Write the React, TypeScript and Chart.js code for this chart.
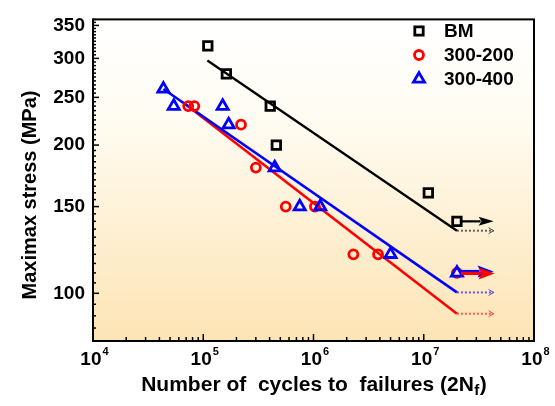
import React, { useEffect, useRef } from 'react';
import { Chart, registerables } from 'chart.js';
Chart.register(...registerables);

const FONT = '"Liberation Sans", Arial, Helvetica, sans-serif';

// ---- data ----
const legendLabels = ['BM', '300-200', '300-400'];
const seriesColors = ['#000000', '#ff0000', '#0000ff'];

const bmCycles = [1.1e5, 1.62e5, 4.05e5, 4.6e5, 1.1e7, 2e7];
const bmStress = [318, 279, 240, 200, 160, 140];

const s200Cycles = [7.3e4, 8.3e4, 2.2e5, 3.0e5, 5.6e5, 1.03e6, 2.3e6, 3.85e6, 2e7];
const s200Stress = [240, 240, 220, 180, 150, 150, 120, 120, 110];

const s400Cycles = [4.35e4, 5.4e4, 1.5e5, 1.7e5, 4.45e5, 7.5e5, 1.15e6, 5.0e6, 2e7];
const s400Stress = [260, 240, 240, 220, 180, 150, 150, 120, 110];

const bmFitCycles = [1.09e5, 2e7];
const bmFitStress = [297, 134];
const s200FitCycles = [6.9e4, 2e7];
const s200FitStress = [242, 90.9];
const s400FitCycles = [4.35e4, 2e7];
const s400FitStress = [260, 100.4];

const runoutEndCycles = 4.3e7; // end of run-out arrows / dashed extensions
const runoutArrowStress = [140, 110, 110]; // BM, 300-200, 300-400

const yMajorTicks = [100, 150, 200, 250, 300, 350];
const yMinorStep = 5;
const xDecades = [4, 5, 6, 7, 8];
const yMin = 80;
const yMax = 360;
const xMin = 1e4;
const xMax = 1e8;

const pts = (xs: number[], ys: number[]) => xs.map((x, i) => ({ x, y: ys[i] }));

function drawArrow(ctx: CanvasRenderingContext2D, x1: number, y: number, x2: number, color: string, lw: number, hl: number, hw: number) {
  ctx.save();
  ctx.strokeStyle = color;
  ctx.fillStyle = color;
  ctx.lineWidth = lw;
  ctx.beginPath();
  ctx.moveTo(x1, y);
  ctx.lineTo(x2 - hl + 2, y);
  ctx.stroke();
  ctx.beginPath();
  ctx.moveTo(x2, y);
  ctx.lineTo(x2 - hl, y - hw);
  ctx.lineTo(x2 - hl + 3, y);
  ctx.lineTo(x2 - hl, y + hw);
  ctx.closePath();
  ctx.fill();
  ctx.restore();
}

function drawMarker(ctx: CanvasRenderingContext2D, kind: number, x: number, y: number) {
  ctx.save();
  ctx.lineWidth = 2.8;
  ctx.strokeStyle = seriesColors[kind];
  ctx.beginPath();
  if (kind === 0) {
    ctx.rect(x - 4.2, y - 4.2, 8.4, 8.4);
  } else if (kind === 1) {
    ctx.arc(x, y, 4.5, 0, Math.PI * 2);
  } else {
    const r = 6.4;
    ctx.moveTo(x, y - r);
    ctx.lineTo(x + r * 0.866, y + r * 0.5);
    ctx.lineTo(x - r * 0.866, y + r * 0.5);
    ctx.closePath();
  }
  ctx.stroke();
  ctx.restore();
}

const decorPlugin = {
  id: 'decor',
  beforeDatasetsDraw(chart: any) {
    const { ctx, chartArea: a } = chart;
    const g = ctx.createLinearGradient(0, a.top, 0, a.bottom);
    g.addColorStop(0, '#ffffff');
    g.addColorStop(0.3, '#fffcf3');
    g.addColorStop(1, '#fde4b4');
    ctx.save();
    ctx.fillStyle = g;
    ctx.fillRect(a.left, a.top, a.right - a.left, a.bottom - a.top);
    ctx.restore();
  },
  afterDatasetsDraw(chart: any) {
    const { ctx, chartArea: a } = chart;
    const xs = chart.scales.x;
    const ys = chart.scales.y;

    // run-out arrows
    const startX = xs.getPixelForValue(2e7) + 4;
    const endX = xs.getPixelForValue(runoutEndCycles);
    drawArrow(ctx, startX, ys.getPixelForValue(runoutArrowStress[0]), endX, '#000', 2.2, 15, 4.5);
    drawArrow(ctx, startX, ys.getPixelForValue(runoutArrowStress[2]) - 1.5, endX, '#0000ff', 3, 16, 6);
    drawArrow(ctx, startX, ys.getPixelForValue(runoutArrowStress[1]) + 0.5, endX + 1, '#ff0000', 3.2, 16, 6);

    // small open heads on dashed extensions
    const fits = [bmFitStress[1], s200FitStress[1], s400FitStress[1]];
    fits.forEach((s, i) => {
      const y = ys.getPixelForValue(s);
      ctx.save();
      ctx.strokeStyle = seriesColors[i];
      ctx.globalAlpha = 0.7;
      ctx.lineWidth = 1;
      ctx.beginPath();
      ctx.moveTo(endX - 5, y - 3);
      ctx.lineTo(endX, y);
      ctx.lineTo(endX - 5, y + 3);
      ctx.stroke();
      ctx.restore();
    });

    // ticks
    ctx.save();
    ctx.strokeStyle = '#000';
    ctx.lineWidth = 1.5;
    xs.ticks.forEach((t: any) => {
      const px = xs.getPixelForValue(t.value);
      const lg = Math.log10(t.value);
      const major = Math.abs(lg - Math.round(lg)) < 1e-9;
      const len = major ? 7 : 4;
      ctx.beginPath();
      ctx.moveTo(px, a.bottom);
      ctx.lineTo(px, a.bottom - len);
      ctx.stroke();
    });
    ys.ticks.forEach((t: any) => {
      const py = ys.getPixelForValue(t.value);
      const major = yMajorTicks.includes(t.value);
      const len = major ? 6 : 3;
      ctx.beginPath();
      ctx.moveTo(a.left, py);
      ctx.lineTo(a.left + len, py);
      ctx.stroke();
    });
    // frame
    ctx.lineWidth = 2;
    ctx.strokeRect(a.left, a.top, a.right - a.left, a.bottom - a.top);
    ctx.restore();

    // x tick labels 10^n
    ctx.save();
    ctx.fillStyle = '#000';
    ctx.textBaseline = 'alphabetic';
    xDecades.forEach((d) => {
      const px = xs.getPixelForValue(Math.pow(10, d));
      ctx.font = 'bold 19px ' + FONT;
      const w1 = ctx.measureText('10').width;
      ctx.font = 'bold 11px ' + FONT;
      const w2 = ctx.measureText(String(d)).width;
      const x0 = px - (w1 + w2) / 2 + 1;
      ctx.font = 'bold 19px ' + FONT;
      ctx.textAlign = 'left';
      ctx.fillText('10', x0, 365);
      ctx.font = 'bold 11px ' + FONT;
      ctx.fillText(String(d), x0 + w1 + 1, 355);
    });

    // x title with subscript
    const p1 = 'Number of  cycles to  failures (2N';
    const sub = 'f';
    const p2 = ')';
    ctx.font = 'bold 21px ' + FONT;
    const wa = ctx.measureText(p1).width;
    const wc = ctx.measureText(p2).width;
    ctx.font = 'bold 15px ' + FONT;
    const wb = ctx.measureText(sub).width;
    let tx = (a.left + a.right) / 2 - (wa + wb + wc) / 2;
    ctx.font = 'bold 21px ' + FONT;
    ctx.fillText(p1, tx, 391);
    tx += wa;
    ctx.font = 'bold 15px ' + FONT;
    ctx.fillText(sub, tx + 0.5, 395);
    tx += wb + 1;
    ctx.font = 'bold 21px ' + FONT;
    ctx.fillText(p2, tx, 391);

    // y title
    ctx.translate(30, 195);
    ctx.rotate(-Math.PI / 2);
    ctx.textAlign = 'center';
    ctx.textBaseline = 'middle';
    ctx.font = 'bold 20px ' + FONT;
    ctx.fillText('Maximax stress (MPa)', 0, 0);
    ctx.restore();

    // legend
    const legY = [31, 55, 79];
    legendLabels.forEach((lab, i) => {
      drawMarker(ctx, i, 419, legY[i]);
      ctx.save();
      ctx.fillStyle = '#000';
      ctx.font = 'bold 19px ' + FONT;
      ctx.textAlign = 'left';
      ctx.textBaseline = 'middle';
      ctx.fillText(lab, 444, legY[i] + 1);
      ctx.restore();
    });
  },
};

export default function App() {
  const ref = useRef<HTMLCanvasElement | null>(null);
  useEffect(() => {
    if (!ref.current) return;
    const yTicks: number[] = [];
    for (let v = yMin; v <= yMax; v += yMinorStep) yTicks.push(v);
    const xTicks: number[] = [];
    for (let d = xDecades[0]; d < xDecades[xDecades.length - 1]; d++) {
      for (let k = 1; k <= 9; k++) xTicks.push(k * Math.pow(10, d));
    }
    xTicks.push(Math.pow(10, xDecades[xDecades.length - 1]));

    const scatter = (data: any, color: string, style: string, radius: number) => ({
      type: 'line' as const,
      data,
      showLine: false,
      pointStyle: style,
      pointRadius: radius,
      pointBorderWidth: 2.8,
      pointBorderColor: color,
      pointBackgroundColor: 'rgba(0,0,0,0)',
      borderColor: color,
    });
    const line = (data: any, color: string, width: number, dash: number[] = []) => ({
      type: 'line' as const,
      data,
      borderColor: color,
      borderWidth: width,
      borderDash: dash,
      pointRadius: 0,
      fill: false,
    });

    const chart = new Chart(ref.current, {
      type: 'line',
      data: {
        datasets: [
          scatter(pts(s400Cycles, s400Stress), seriesColors[2], 'triangle', 6.4),
          scatter(pts(s200Cycles, s200Stress), seriesColors[1], 'circle', 4.5),
          scatter(pts(bmCycles, bmStress), seriesColors[0], 'rect', 6),
          line(pts(s400FitCycles, s400FitStress), seriesColors[2], 2.6),
          line(pts(s200FitCycles, s200FitStress), seriesColors[1], 2.6),
          line(pts(bmFitCycles, bmFitStress), seriesColors[0], 2.3),
          line(pts([s400FitCycles[1], runoutEndCycles], [s400FitStress[1], s400FitStress[1]]), 'rgba(0,0,255,0.6)', 2, [2, 2]),
          line(pts([s200FitCycles[1], runoutEndCycles], [s200FitStress[1], s200FitStress[1]]), 'rgba(255,0,0,0.6)', 2, [2, 2]),
          line(pts([bmFitCycles[1], runoutEndCycles], [bmFitStress[1], bmFitStress[1]]), 'rgba(0,0,0,0.6)', 2, [2, 2]),
        ] as any,
      },
      options: {
        responsive: false,
        animation: false,
        events: [],
        layout: { padding: { top: 15, right: 21, left: 0, bottom: 0 } },
        plugins: { legend: { display: false }, tooltip: { enabled: false } },
        scales: {
          x: {
            type: 'logarithmic',
            min: xMin,
            max: xMax,
            grid: { display: false },
            border: { display: false },
            ticks: { display: false },
            afterBuildTicks: (s: any) => {
              s.ticks = xTicks.map((v) => ({ value: v }));
            },
            afterFit: (s: any) => {
              s.height = 65;
            },
          },
          y: {
            type: 'logarithmic',
            min: yMin,
            max: yMax,
            grid: { display: false, drawTicks: false },
            border: { display: false },
            ticks: {
              autoSkip: false,
              padding: 8,
              color: '#000',
              font: { family: FONT, size: 19, weight: 'bold' },
              callback: (v: any) => (yMajorTicks.includes(Number(v)) ? String(v) : ''),
            },
            afterBuildTicks: (s: any) => {
              s.ticks = yTicks.map((v) => ({ value: v }));
            },
            afterFit: (s: any) => {
              s.width = 93;
            },
          },
        },
      } as any,
      plugins: [decorPlugin],
    });
    return () => chart.destroy();
  }, []);
  return (
    <div style={{ position: 'absolute', left: 0, top: 0, width: 555, height: 406, background: '#fff' }}>
      <canvas ref={ref} width={555} height={406} style={{ width: 555, height: 406 }} />
    </div>
  );
}
